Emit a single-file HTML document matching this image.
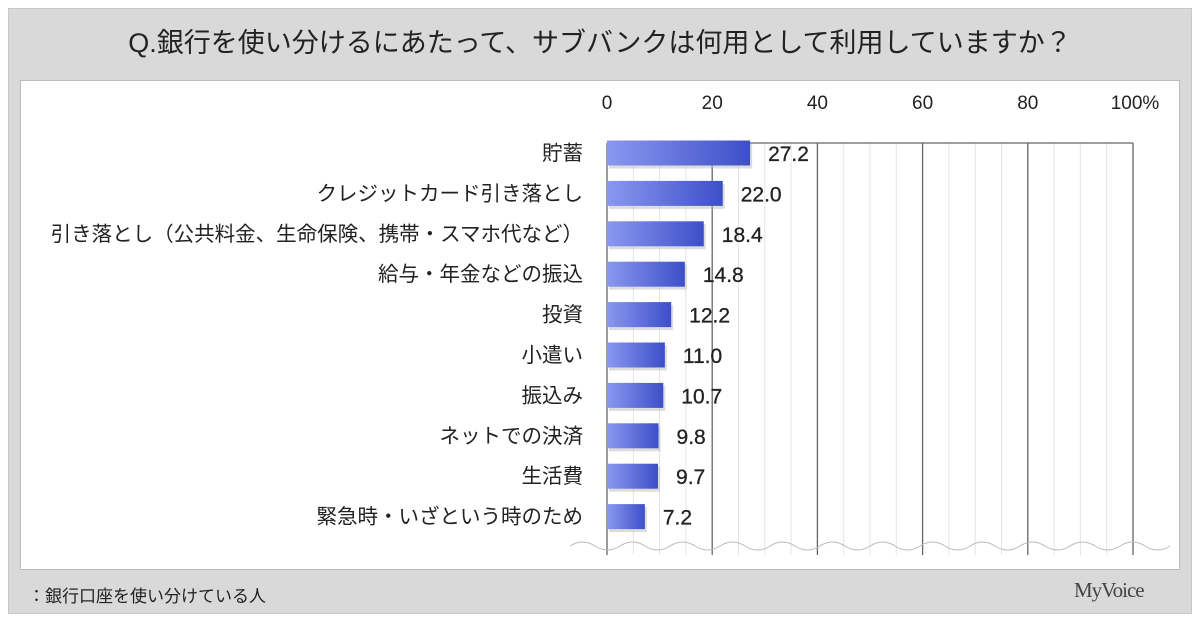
<!DOCTYPE html>
<html><head><meta charset="utf-8"><style>
body{margin:0;width:1200px;height:624px;background:#fff;font-family:"Liberation Sans","Noto Sans CJK JP",sans-serif;overflow:hidden}
#panel{position:absolute;left:8px;top:8px;width:1184px;height:606px;background:#d9d9d9;border:1px solid #c8c8c8;box-sizing:border-box}
#title{position:absolute;left:8px;top:21px;width:1184px;text-align:center;font-size:27px;color:#222}
#white{position:absolute;left:20px;top:80px;width:1160px;height:490px;background:#fff;border:1px solid #bbb;box-sizing:border-box}
#foot{position:absolute;left:28px;top:582px;font-size:17px;color:#222}
#logo{position:absolute;left:1074px;top:578px;font-size:21px;color:#444;font-family:"Liberation Serif",serif;letter-spacing:-1px}
svg{position:absolute;left:0;top:0}
</style></head><body>
<div id="panel"></div>
<div id="title">Q.銀行を使い分けるにあたって、サブバンクは何用として利用していますか？</div>
<div id="white"></div>
<div id="foot">：銀行口座を使い分けている人</div>
<div id="logo">MyVoice</div>
<svg id="chart" width="1200" height="624">
<defs><linearGradient id="g" x1="0" y1="0" x2="1" y2="0"><stop offset="0" stop-color="#8a98f0"/><stop offset="1" stop-color="#3d4fc8"/></linearGradient></defs>
</svg>
<script>
const categories=["貯蓄","クレジットカード引き落とし","引き落とし（公共料金、生命保険、携帯・スマホ代など）","給与・年金などの振込","投資","小遣い","振込み","ネットでの決済","生活費","緊急時・いざという時のため"];
const values=[27.2,22.0,18.4,14.8,12.2,11.0,10.7,9.8,9.7,7.2];
const valueLabels=["27.2","22.0","18.4","14.8","12.2","11.0","10.7","9.8","9.7","7.2"];
const ticks=[0,20,40,60,80,100];
const tickLabels=["0","20","40","60","80","100%"];
const svg=document.getElementById('chart');
const NS='http://www.w3.org/2000/svg';
const x0=607,x1=1133,plotTop=143,plotBottom=555,rowH=40.4,firstY=153,barH=25;
const xs=v=>x0+(x1-x0)*v/100;
const ys=i=>firstY+i*rowH;
function mk(t,a){const e=document.createElementNS(NS,t);for(const k in a)e.setAttribute(k,a[k]);svg.appendChild(e);return e;}
for(let v=5;v<100;v+=5){if(v%20===0)continue;const l=mk('line',{x1:xs(v),x2:xs(v),y1:plotTop,y2:plotBottom,stroke:'#e4e4e4','stroke-width':1});

}
ticks.forEach((t,i)=>{const l=mk('line',{x1:xs(t),x2:xs(t),y1:plotTop,y2:plotBottom,stroke:'#666','stroke-width':1.3});


const tx=mk('text',{x:xs(t)+(i===5?2:0),y:109,'text-anchor':'middle','font-size':19,fill:'#222'});tx.textContent=tickLabels[i];

});
const tl=mk('line',{x1:x0,x2:x1,y1:plotTop,y2:plotTop,stroke:'#666','stroke-width':1.3});


let d='M570 546';for(let x=570;x<1170;x+=50){d+=` Q${x+12.5} 538 ${x+25} 546 T${x+50} 546`;}
const w=mk('path',{d:d,fill:'none',stroke:'#bbb','stroke-width':1});


categories.forEach((c,i)=>{const y=ys(i);
const sh=mk('rect',{x:x0+2,y:y-barH/2+3,width:xs(values[i])-x0,height:barH,fill:'#bbb',opacity:0.5});


const r=mk('rect',{x:x0,y:y-barH/2,width:xs(values[i])-x0,height:barH,fill:'url(#g)'});


const lb=mk('text',{x:583,y:y+7,'text-anchor':'end','font-size':20.5,fill:'#222'});lb.textContent=c;


const vl=mk('text',{x:xs(values[i])+18,y:y+8,'font-size':21,fill:'#222',stroke:'#222','stroke-width':0.3});vl.textContent=valueLabels[i];

});
</script>
</body></html>
